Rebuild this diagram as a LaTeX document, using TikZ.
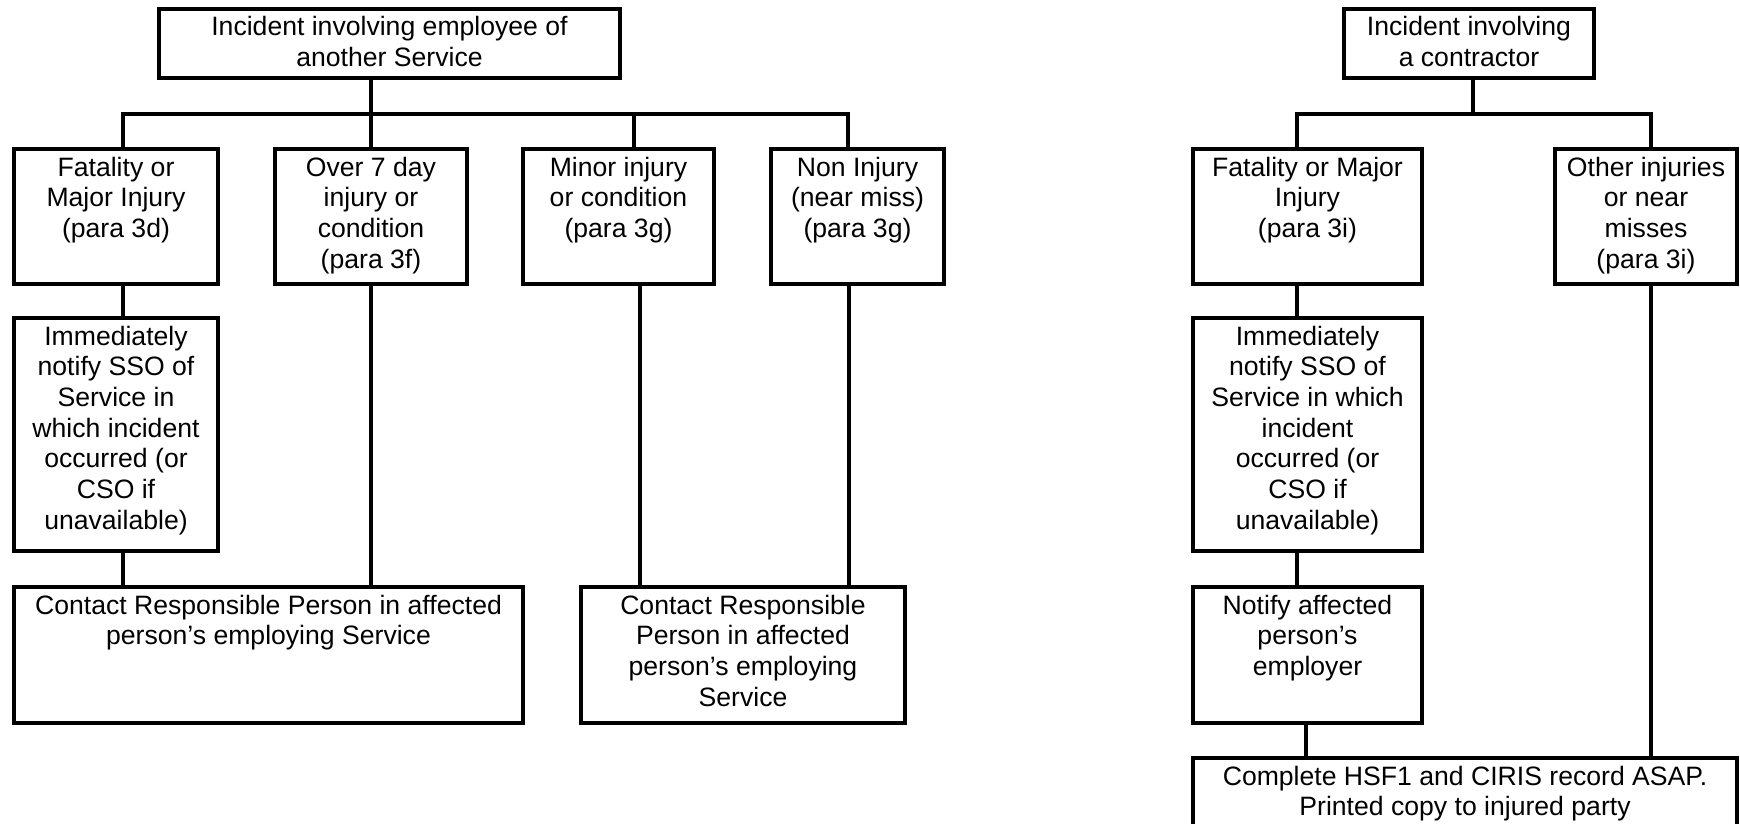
\documentclass[tikz,border=0pt]{standalone}
\usepackage{fontspec}
\setmainfont{Liberation Sans}
\newcommand{\boxtxt}[3]{\parbox[t][#2][t]{#1}{\centering\rule{0pt}{27pt}#3}}
\tikzset{
  fbox/.style={draw, line width=4pt, inner sep=0pt, outer sep=0pt, anchor=north west,
    font=\fontsize{26.6pt}{30.7pt}\selectfont},
  conn/.style={line width=4pt}
}
\begin{document}
\begin{tikzpicture}[x=1pt,y=1pt]
\useasboundingbox (0,0) rectangle (1740,-824);
\clip (0,0) rectangle (1740,-824);
% left chart
\node[fbox] (T1) at (159,-9) {\boxtxt{461pt}{69pt}{Incident involving employee of\\another Service}};
\node[fbox] (F1) at (14,-149) {\boxtxt{204pt}{135pt}{Fatality or\\Major Injury\\(para 3d)}};
\node[fbox] (O7) at (275,-149) {\boxtxt{192pt}{135pt}{Over 7 day\\injury or\\condition\\(para 3f)}};
\node[fbox] (MI) at (523,-149) {\boxtxt{191pt}{135pt}{Minor injury\\or condition\\(para 3g)}};
\node[fbox] (NI) at (771,-149) {\boxtxt{173pt}{135pt}{Non Injury\\(near miss)\\(para 3g)}};
\node[fbox] (IM1) at (14,-318) {\boxtxt{204pt}{233pt}{Immediately\\notify SSO of\\Service in\\which incident\\occurred (or\\CSO if\\unavailable)}};
\node[fbox] (C1) at (14,-587) {\boxtxt{509pt}{136pt}{Contact Responsible Person in affected\\person’s employing Service}};
\node[fbox] (C2) at (581,-587) {\boxtxt{324pt}{136pt}{Contact Responsible\\Person in affected\\person’s employing\\Service}};
\coordinate (bA) at (123,-114);
\coordinate (bB) at (371,-114);
\coordinate (bC) at (634,-114);
\coordinate (bD) at (848,-114);
\coordinate (dMI) at (640,-114);
\coordinate (dNI) at (849,-114);
\draw[conn] (T1.south -| bB) -- (bB);
\draw[conn] (F1.north -| bA) |- (bD) -- (NI.north -| bD);
\draw[conn] (bB) -- (O7.north -| bB);
\draw[conn] (bC) -- (MI.north -| bC);
\draw[conn] (F1.south -| bA) -- (IM1.north -| bA);
\draw[conn] (IM1.south -| bA) -- (C1.north -| bA);
\draw[conn] (O7.south -| bB) -- (C1.north -| bB);
\draw[conn] (MI.south -| dMI) -- (C2.north -| dMI);
\draw[conn] (NI.south -| dNI) -- (C2.north -| dNI);
% right chart
\node[fbox] (T2) at (1344,-9) {\boxtxt{250pt}{69pt}{Incident involving\\a contractor}};
\node[fbox] (F2) at (1193,-149) {\boxtxt{229pt}{135pt}{Fatality or Major\\Injury\\(para 3i)}};
\node[fbox] (OT) at (1555,-149) {\boxtxt{182pt}{135pt}{Other injuries\\or near\\misses\\(para 3i)}};
\node[fbox] (IM2) at (1193,-318) {\boxtxt{229pt}{233pt}{Immediately\\notify SSO of\\Service in which\\incident\\occurred (or\\CSO if\\unavailable)}};
\node[fbox] (NO) at (1193,-587) {\boxtxt{229pt}{136pt}{Notify affected\\person’s\\employer}};
\node[fbox] (CB) at (1193,-758) {\boxtxt{544pt}{92pt}{Complete HSF1 and CIRIS record ASAP.\\Printed copy to injured party}};
\coordinate (rA) at (1297,-114);
\coordinate (rB) at (1473,-114);
\coordinate (rC) at (1651,-114);
\coordinate (rN) at (1306,-114);
\draw[conn] (T2.south -| rB) -- (rB);
\draw[conn] (F2.north -| rA) |- (rC) -- (OT.north -| rC);
\draw[conn] (F2.south -| rA) -- (IM2.north -| rA);
\draw[conn] (IM2.south -| rA) -- (NO.north -| rA);
\draw[conn] (NO.south -| rN) -- (CB.north -| rN);
\draw[conn] (OT.south -| rC) -- (CB.north -| rC);
\end{tikzpicture}
\end{document}
